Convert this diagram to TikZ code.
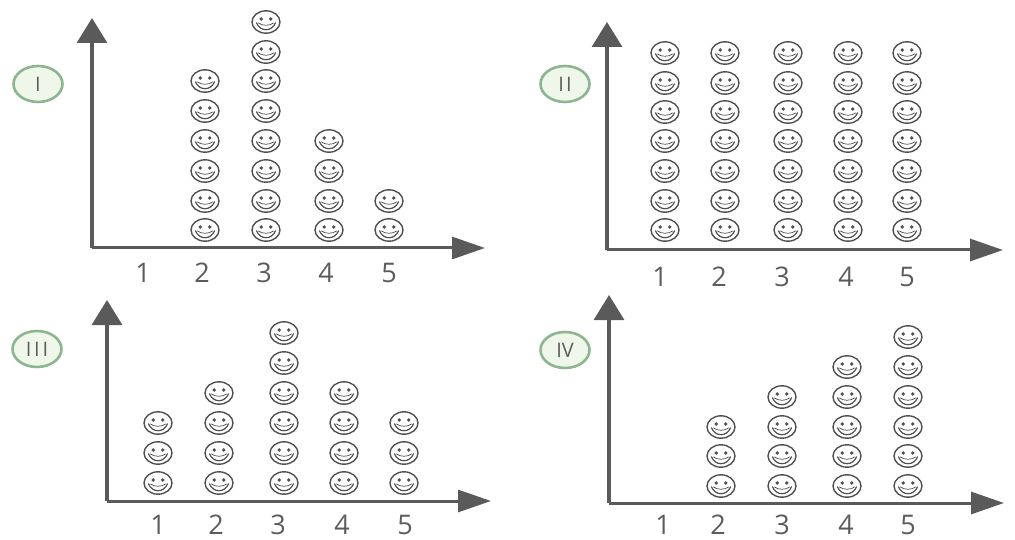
\documentclass[tikz,border=0pt]{standalone}
\usepackage{fontspec}
\setmainfont{Open Sans}
\usetikzlibrary{arrows.meta,shapes.geometric}
\definecolor{axisgray}{HTML}{5A5A5A}
\definecolor{facegray}{HTML}{505050}
\definecolor{labelgray}{HTML}{5C5C5C}
\definecolor{badgefill}{HTML}{EEF7EA}
\definecolor{badgeline}{HTML}{8DB58F}
\tikzset{
  x=1pt,y=-1pt,
  yaxisline/.style={draw=axisgray,line width=3.2pt,-{Triangle[length=25pt,width=30pt,fill=axisgray]}},
  xaxisline/.style={draw=axisgray,line width=3pt,-{Triangle[length=33pt,width=22pt,fill=axisgray]}},
  ticklabel/.style={text=labelgray,font=\fontsize{27}{27}\selectfont,inner sep=0pt},
  badge/.style={ellipse,draw=badgeline,fill=badgefill,line width=2.6pt,minimum width=49pt,minimum height=36pt,inner sep=0pt,text=labelgray,font=\fontsize{20}{20}\selectfont},
  pics/smiley/.style={code={
    \draw[facegray,line width=1.4pt] (0,0) ellipse [x radius=14,y radius=11.2];
    \fill[facegray] (-4.8,-3) circle (1.9) (4.8,-3) circle (1.9);
    \draw[facegray,line width=1.2pt,line cap=round] (-9.5,0.8) .. controls (-6,10) and (6,10) .. (9.5,0.8);
    \draw[facegray,line width=0.7pt,line cap=round] (-7.5,1) .. controls (-4,4) and (4,4) .. (7.5,1);
  }}
}
\newcommand{\stackcol}[2]{%
  \foreach \yy in {#2} {\pic at (#1,\yy) {smiley};}}
\begin{document}
\begin{tikzpicture}
\useasboundingbox (0,0) rectangle (1015,540);
% Chart I
\coordinate (o1) at (92,248); \coordinate (t1) at (92,18); \coordinate (r1) at (485,248);
\draw[yaxisline] (o1) -- (t1);
\draw[xaxisline] (o1) -- (r1);
\node[badge] (b1) at (38,84) {I};
\foreach \n/\x in {1/143,2/202,3/264,4/326,5/389} \node[ticklabel] (la\n) at (\x,273) {\n};
\stackcol{205}{230,201,171,141,111,81}
\stackcol{266}{230,201,171,141,111,81,52,22}
\stackcol{329}{230,201,171,141}
\stackcol{389}{230,201}
% Chart II
\coordinate (o2) at (607,250); \coordinate (t2) at (607,22); \coordinate (r2) at (1003,250);
\draw[yaxisline] (o2) -- (t2);
\draw[xaxisline] (o2) -- (r2);
\node[badge] (b2) at (565,84) {\addfontfeature{LetterSpace=10}II};
\foreach \n/\x in {1/660,2/719,3/782,4/846,5/907} \node[ticklabel] (lb\n) at (\x,277) {\n};
\foreach \x in {665,725,788,848,907} {\stackcol{\x}{230,201,171,141,112,83,53}}
% Chart III
\coordinate (o3) at (107,501); \coordinate (t3) at (107,300); \coordinate (r3) at (491,501);
\draw[yaxisline] (o3) -- (t3);
\draw[xaxisline] (o3) -- (r3);
\node[badge] (b3) at (37,349) {\addfontfeature{LetterSpace=14}III};
\foreach \n/\x in {1/158,2/216,3/278,4/342,5/405} \node[ticklabel] (lc\n) at (\x,525) {\n};
\stackcol{158}{483,453,423}
\stackcol{219}{483,453,423,393}
\stackcol{284}{483,453,423,393,363,333}
\stackcol{344}{483,453,423,393}
\stackcol{404}{483,453,423}
% Chart IV
\coordinate (o4) at (609,503); \coordinate (t4) at (609,295); \coordinate (r4) at (1004,503);
\draw[yaxisline] (o4) -- (t4);
\draw[xaxisline] (o4) -- (r4);
\node[badge] (b4) at (565,350) {IV};
\foreach \n/\x in {1/663,2/718,3/782,4/846,5/908} \node[ticklabel] (ld\n) at (\x,525) {\n};
\stackcol{721}{486,456,427}
\stackcol{782}{486,456,427,397}
\stackcol{847}{486,456,427,397,367}
\stackcol{908}{486,456,427,397,367,337}
\end{tikzpicture}
\end{document}
